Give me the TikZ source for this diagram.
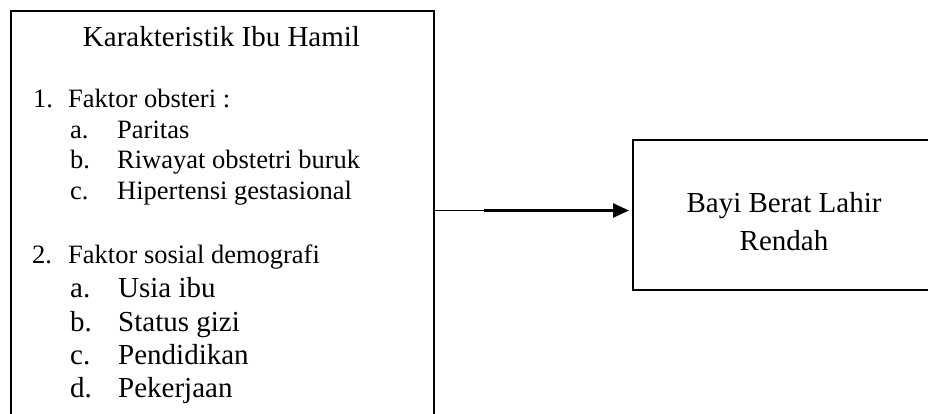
\documentclass[tikz,border=0pt]{standalone}
\usepackage{fontspec}
\setmainfont{Liberation Serif}
\usetikzlibrary{arrows.meta}
\tikzset{
  boxshape/.style={draw=black, rectangle, inner sep=0pt, anchor=north west},
  txt/.style={inner sep=0pt, anchor=base west},
  big/.style={font=\fontsize{29}{38}\selectfont},
  small/.style={font=\fontsize{26.5}{30.5}\selectfont},
}
\begin{document}
\begin{tikzpicture}[x=1pt, y=-1pt]
\useasboundingbox (0,0) rectangle (928,414);
% left box
\node[boxshape, line width=2pt, minimum width=423pt, minimum height=420pt] (ibu) at (10,10) {};
% right box
\node[boxshape, line width=1.6pt, minimum width=330pt, minimum height=150pt] (bbl) at (632,139) {};
% title
\node[inner sep=0pt, anchor=base, big] (title) at (221.5,47) {Karakteristik Ibu Hamil};
% group 1
\node[txt, small] (n1) at (33,108) {1.};
\node[txt, small] (f1) at (68,108) {Faktor obsteri :};
\node[txt, small] (l1a) at (70,138.5) {a.};
\node[txt, small] (t1a) at (117,138.5) {Paritas};
\node[txt, small] (l1b) at (70,169) {b.};
\node[txt, small] (t1b) at (117,169) {Riwayat obstetri buruk};
\node[txt, small] (l1c) at (70,199.5) {c.};
\node[txt, small] (t1c) at (117,199.5) {Hipertensi gestasional};
% group 2
\node[txt, small] (n2) at (32,263) {2.};
\node[txt, small] (f2) at (68,263) {Faktor sosial demografi};
\node[txt, big] (l2a) at (70,297) {a.};
\node[txt, big] (t2a) at (118,297) {Usia ibu};
\node[txt, big] (l2b) at (70,331) {b.};
\node[txt, big] (t2b) at (118,331) {Status gizi};
\node[txt, big] (l2c) at (70,364) {c.};
\node[txt, big] (t2c) at (118,364) {Pendidikan};
\node[txt, big] (l2d) at (70,397) {d.};
\node[txt, big] (t2d) at (118,397) {Pekerjaan};
% right box text
\node[inner sep=0pt, anchor=base, big] (bb1) at (784,212) {Bayi Berat Lahir};
\node[inner sep=0pt, anchor=base, big] (bb2) at (784,250) {Rendah};
% arrow
\coordinate (mid) at (484,210.5);
\draw[line width=1pt] (ibu.east |- mid) -- (mid);
\draw[line width=2.7pt, -{Triangle[length=16pt,width=14pt]}, shorten >=3pt] (mid) -- (bbl.west |- mid);
\end{tikzpicture}
\end{document}
